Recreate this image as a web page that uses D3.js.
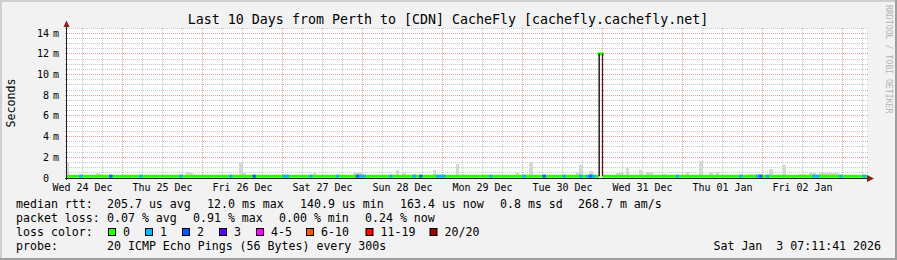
<!DOCTYPE html>
<html>
<head>
<meta charset="utf-8">
<script src="https://cdn.jsdelivr.net/npm/d3@7"></script>
<style>
body { margin: 0; background: #f2f2f2; }
svg { display: block; }
text { font-family: "DejaVu Sans Mono", monospace; white-space: pre; }
</style>
</head>
<body>
<div class="chart"></div>
<script>
//Time window of the graph
var startTime = '2025-12-24T07:21:00Z';
var endTime = '2026-01-03T07:21:00Z';

//Y axis ticks (ms)
var yTicks = [0, 2, 4, 6, 8, 10, 12, 14];
var yUnits = ['', 'm', 'm', 'm', 'm', 'm', 'm', 'm'];

//X axis labels, placed at noon
var dayNoons = ['2025-12-24T12:00Z', '2025-12-25T12:00Z', '2025-12-26T12:00Z', '2025-12-27T12:00Z',
                '2025-12-28T12:00Z', '2025-12-29T12:00Z', '2025-12-30T12:00Z', '2025-12-31T12:00Z',
                '2026-01-01T12:00Z', '2026-01-02T12:00Z'];
var dayLabels = ['Wed 24 Dec', 'Thu 25 Dec', 'Fri 26 Dec', 'Sat 27 Dec', 'Sun 28 Dec',
                 'Mon 29 Dec', 'Tue 30 Dec', 'Wed 31 Dec', 'Thu 01 Jan', 'Fri 02 Jan'];

//Median rtt (ms), one step per row
var medianStarts = ['2025-12-24T07:00Z', '2025-12-30T23:00Z', '2025-12-31T00:00Z'];
var medianEnds   = ['2025-12-30T23:00Z', '2025-12-31T00:00Z', '2026-01-03T08:00Z'];
var medianValues = [0.18, 12.0, 0.18];

//Smoke (ping spread), hourly bars: start hour and top (ms)
var smokeTimes = ['2025-12-24T07', '2025-12-24T16', '2025-12-24T17', '2025-12-25T19', '2025-12-25T20',
                  '2025-12-26T11', '2025-12-26T12', '2025-12-27T09', '2025-12-27T21', '2025-12-27T22',
                  '2025-12-27T23', '2025-12-28T10', '2025-12-28T12', '2025-12-28T15', '2025-12-28T21',
                  '2025-12-29T04', '2025-12-29T09', '2025-12-29T22', '2025-12-30T02', '2025-12-30T16',
                  '2025-12-30T17', '2025-12-30T20', '2025-12-31T04', '2025-12-31T05', '2025-12-31T07',
                  '2025-12-31T11', '2025-12-31T13', '2025-12-31T14', '2025-12-31T18', '2026-01-01T01',
                  '2026-01-01T05', '2026-01-01T08', '2026-01-01T10', '2026-01-01T20', '2026-01-01T22',
                  '2026-01-01T23', '2026-01-02T02', '2026-01-02T06', '2026-01-02T11', '2026-01-02T12',
                  '2026-01-02T14', '2026-01-02T15', '2026-01-02T17', '2026-01-02T18', '2026-01-02T19',
                  '2026-01-02T20', '2026-01-02T21', '2026-01-02T22'];
var smokeTops = [1.45, 0.45, 0.40, 0.58, 0.50,
                 1.48, 0.48, 0.58, 0.55, 0.55,
                 0.60, 0.77, 0.48, 0.39, 0.77,
                 1.35, 0.30, 0.48, 1.55, 0.58,
                 1.29, 0.68, 0.48, 0.48, 0.97,
                 0.77, 0.58, 0.58, 0.39, 0.58,
                 1.67, 0.58, 0.58, 0.39, 0.39,
                 0.39, 0.90, 1.29, 0.39, 0.39,
                 0.48, 0.48, 0.44, 0.44, 0.44,
                 0.44, 0.44, 0.44];
var smokeFloor = 0.15;

//Hours with packet loss: start hour and lost pings
var lossTimes = ['2025-12-24T11', '2025-12-24T20', '2025-12-25T05', '2025-12-25T17', '2025-12-26T08',
                 '2025-12-26T15', '2025-12-27T00', '2025-12-27T01', '2025-12-27T08', '2025-12-27T16',
                 '2025-12-27T22', '2025-12-27T23', '2025-12-28T00', '2025-12-28T08', '2025-12-28T15',
                 '2025-12-28T17', '2025-12-28T22', '2025-12-28T23', '2025-12-29T00', '2025-12-29T14',
                 '2025-12-30T00', '2025-12-30T06', '2025-12-30T12', '2025-12-30T17', '2025-12-30T19',
                 '2025-12-30T20', '2025-12-30T21', '2025-12-31T22', '2026-01-01T17', '2026-01-01T22',
                 '2026-01-01T23', '2026-01-02T01', '2026-01-02T15', '2026-01-02T16', '2026-01-02T23',
                 '2026-01-03T06'];
var lossCounts = [1, 2, 1, 1, 1,
                  2, 1, 1, 1, 1,
                  2, 1, 1, 1, 1,
                  2, 1, 1, 1, 1,
                  1, 2, 1, 1, 1,
                  2, 1, 1, 1, 1,
                  2, 1, 1, 1, 1,
                  1];

//Loss color legend
var lossLabels = ['0', '1', '2', '3', '4-5', '6-10', '11-19', '20/20'];
var lossColors = ['#26ff00', '#00b8ff', '#0059ff', '#5e00ff', '#ff00ff', '#ff5500', '#ff0000', '#a10000'];
var lossKeyX = [108.5, 145.5, 182.5, 219.5, 256.5, 306.5, 366, 430];

//Legend text
var rttItems = ['205.7 us avg', '12.0 ms max', '140.9 us min', '163.4 us now', '0.8 ms sd', '268.7 m am/s'];
var rttX = [107, 207, 300, 400, 500, 578];
var lossItems = ['0.07 % avg', '0.91 % max', '0.00 % min', '0.24 % now'];
var lossX = [107, 193, 279, 365];

//Layout
var W = 897, H = 260;
var plotL = 67, plotR = 867, plotT = 28, plotB = 178;

var parse = function(s) {
  return new Date(s.length == 13 ? s + ':00:00Z' : s);
};
var hourAfter = function(d) { return d3.utcHour.offset(d, 1); };

var svg = d3.select('.chart').append('svg')
            .attr('width', W)
            .attr('height', H);

//3D frame
svg.append('rect').attr('width', W).attr('height', H).attr('fill', '#f2f2f2');
svg.append('rect').attr('x', 0).attr('y', 0).attr('width', W).attr('height', 2).attr('fill', '#cfcfcf');
svg.append('rect').attr('x', 0).attr('y', 0).attr('width', 2).attr('height', H).attr('fill', '#cfcfcf');
svg.append('rect').attr('x', 0).attr('y', H - 2).attr('width', W).attr('height', 2).attr('fill', '#9e9e9e');
svg.append('rect').attr('x', W - 2).attr('y', 0).attr('width', 2).attr('height', H).attr('fill', '#9e9e9e');

//Scales
var x = d3.scaleUtc().domain([parse(startTime), parse(endTime)]).range([plotL, plotR]);
var y = d3.scaleLinear().domain([0, 14.5]).range([plotB, plotT]);
var px = function(v) { return Math.floor(v) + 0.5; };

//Canvas
svg.append('rect').attr('x', plotL).attr('y', plotT)
   .attr('width', plotR - plotL).attr('height', plotB - plotT).attr('fill', '#fff');

var grid = svg.append('g').attr('shape-rendering', 'crispEdges');
var minorCol = 'rgba(143,143,143,0.5)', majorCol = 'rgba(222,79,79,0.55)';

//Horizontal grid
var hMinor = d3.range(0.5, 14.51, 0.5).filter(function(v) { return v % 2 != 0; });
grid.selectAll('.hmin').data(hMinor).enter().append('line')
    .attr('x1', plotL - 2).attr('x2', plotR + 2)
    .attr('y1', function(d) { return px(y(d)); }).attr('y2', function(d) { return px(y(d)); })
    .attr('stroke', minorCol).attr('stroke-dasharray', '1,1');
grid.selectAll('.hmaj').data(yTicks.slice(1)).enter().append('line')
    .attr('x1', plotL - 2).attr('x2', plotR + 2)
    .attr('y1', function(d) { return px(y(d)); }).attr('y2', function(d) { return px(y(d)); })
    .attr('stroke', majorCol).attr('stroke-dasharray', '1,1');

//Vertical grid: 6 hours minor, midnight major
var vMinor = d3.utcHour.every(6).range(x.domain()[0], x.domain()[1])
               .filter(function(d) { return d.getUTCHours() != 0; });
var vMajor = d3.utcDay.range(x.domain()[0], x.domain()[1]);
grid.selectAll('.vmin').data(vMinor).enter().append('line')
    .attr('x1', function(d) { return px(x(d)); }).attr('x2', function(d) { return px(x(d)); })
    .attr('y1', plotT).attr('y2', plotB + 2)
    .attr('stroke', minorCol).attr('stroke-dasharray', '1,1');
grid.selectAll('.vmaj').data(vMajor).enter().append('line')
    .attr('x1', function(d) { return px(x(d)); }).attr('x2', function(d) { return px(x(d)); })
    .attr('y1', plotT).attr('y2', plotB + 2)
    .attr('stroke', majorCol).attr('stroke-dasharray', '1,1');

//Smoke
var plot = svg.append('g');
plot.append('clipPath').attr('id', 'clip').append('rect')
    .attr('x', plotL).attr('y', plotT - 5).attr('width', plotR - plotL).attr('height', plotB - plotT + 5);
var inner = plot.append('g').attr('clip-path', 'url(#clip)');

inner.selectAll('.smoke').data(smokeTimes).enter().append('rect')
     .attr('x', function(d) { return x(parse(d)); })
     .attr('width', function(d) { return x(hourAfter(parse(d))) - x(parse(d)); })
     .attr('y', function(d, i) { return y(smokeTops[i]); })
     .attr('height', function(d, i) { return y(smokeFloor) - y(smokeTops[i]); })
     .attr('fill', '#d6d6d6')
     .attr('shape-rendering', 'crispEdges');

//Median line, loss 0
inner.selectAll('.med').data(medianValues).enter().append('line')
     .attr('x1', function(d, i) { return x(parse(medianStarts[i])); })
     .attr('x2', function(d, i) { return x(parse(medianEnds[i])); })
     .attr('y1', function(d) { return y(d); })
     .attr('y2', function(d) { return y(d); })
     .attr('stroke', lossColors[0])
     .attr('stroke-width', 3)
     .attr('stroke-linecap', function(d) { return d > 1 ? 'square' : 'butt'; });

//Step edges of the median
var edgeColors = ['#000', '#6e0d0d'];
medianValues.forEach(function(v, i) {
  if (i == 0) return;
  var t = x(parse(medianStarts[i]));
  inner.append('line')
       .attr('x1', t).attr('x2', t)
       .attr('y1', y(medianValues[i - 1])).attr('y2', y(v))
       .attr('stroke', edgeColors[(i - 1) % 2])
       .attr('stroke-width', 1.3);
});

//Median line colored by loss
inner.selectAll('.loss').data(lossTimes).enter().append('line')
     .attr('x1', function(d) { return x(parse(d)); })
     .attr('x2', function(d) { return x(hourAfter(parse(d))); })
     .attr('y1', y(medianValues[0])).attr('y2', y(medianValues[0]))
     .attr('stroke', function(d, i) { return lossColors[lossCounts[i]]; })
     .attr('stroke-width', 3);

//Y labels: number right aligned, unit after it
var ylab = svg.append('g').attr('font-size', '10px').attr('fill', '#000');
ylab.selectAll('.yn').data(yTicks).enter().append('text')
    .attr('x', 49).attr('y', function(d) { return y(d) + 3.5; })
    .attr('text-anchor', 'end')
    .text(function(d) { return d; });
ylab.selectAll('.yu').data(yTicks).enter().append('text')
    .attr('x', 53).attr('y', function(d) { return y(d) + 3.5; })
    .text(function(d, i) { return yUnits[i]; });

//X labels
svg.selectAll('.xlab').data(dayNoons).enter().append('text')
   .attr('x', function(d) { return x(parse(d)); }).attr('y', 190.5)
   .attr('text-anchor', 'middle').attr('font-size', '10px').attr('fill', '#000')
   .text(function(d, i) { return dayLabels[i]; });

//Axes and arrows
var axisCol = '#1f1f1f', arrowCol = '#801f1f';
svg.append('line').attr('x1', plotL - 0.5).attr('x2', plotL - 0.5).attr('y1', plotB + 2).attr('y2', plotT - 5)
   .attr('stroke', axisCol).attr('shape-rendering', 'crispEdges');
svg.append('line').attr('x1', plotL - 2).attr('x2', plotR + 4).attr('y1', plotB + 0.5).attr('y2', plotB + 0.5)
   .attr('stroke', axisCol).attr('shape-rendering', 'crispEdges');
svg.append('path').attr('d', 'M63.5,27L66.5,20.5L69.5,27Z').attr('fill', arrowCol);
svg.append('path').attr('d', 'M867,175L874,178.5L867,182Z').attr('fill', arrowCol);

//Title
svg.append('text').attr('x', 448).attr('y', 23.5).attr('text-anchor', 'middle')
   .attr('font-size', '13.3px').attr('fill', '#000')
   .text('Last 10 Days from Perth to [CDN] CacheFly [cachefly.cachefly.net]');

//Vertical label
svg.append('text').attr('transform', 'translate(15,103) rotate(-90)')
   .attr('text-anchor', 'middle').attr('font-size', '11.6px').attr('fill', '#000')
   .text('Seconds');

//Watermark
svg.append('text').attr('transform', 'translate(886,5) rotate(90)')
   .attr('font-size', '8.2px').attr('fill', '#b4b4b4')
   .text('RRDTOOL / TOBI OETIKER');

//Legend
var legend = svg.append('g').attr('font-size', '11.6px').attr('fill', '#000');
legend.append('text').attr('x', 16).attr('y', 208).text('median rtt:');
legend.selectAll('.rtt').data(rttItems).enter().append('text')
      .attr('x', function(d, i) { return rttX[i]; }).attr('y', 208).text(function(d) { return d; });
legend.append('text').attr('x', 16).attr('y', 222).text('packet loss:');
legend.selectAll('.pl').data(lossItems).enter().append('text')
      .attr('x', function(d, i) { return lossX[i]; }).attr('y', 222).text(function(d) { return d; });
legend.append('text').attr('x', 16).attr('y', 236).text('loss color:');
legend.selectAll('.key').data(lossLabels).enter().append('rect')
      .attr('x', function(d, i) { return lossKeyX[i]; }).attr('y', 228.5)
      .attr('width', 7).attr('height', 7)
      .attr('fill', function(d, i) { return lossColors[i]; })
      .attr('stroke', '#000').attr('stroke-width', 1);
legend.selectAll('.keyt').data(lossLabels).enter().append('text')
      .attr('x', function(d, i) { return lossKeyX[i] + 14.5; }).attr('y', 236)
      .text(function(d) { return d; });
legend.append('text').attr('x', 16).attr('y', 250).text('probe:');
legend.append('text').attr('x', 107).attr('y', 250).text('20 ICMP Echo Pings (56 Bytes) every 300s');
legend.append('text').attr('x', 881).attr('y', 250).attr('text-anchor', 'end')
      .text('Sat Jan  3 07:11:41 2026');
</script>
</body>
</html>
